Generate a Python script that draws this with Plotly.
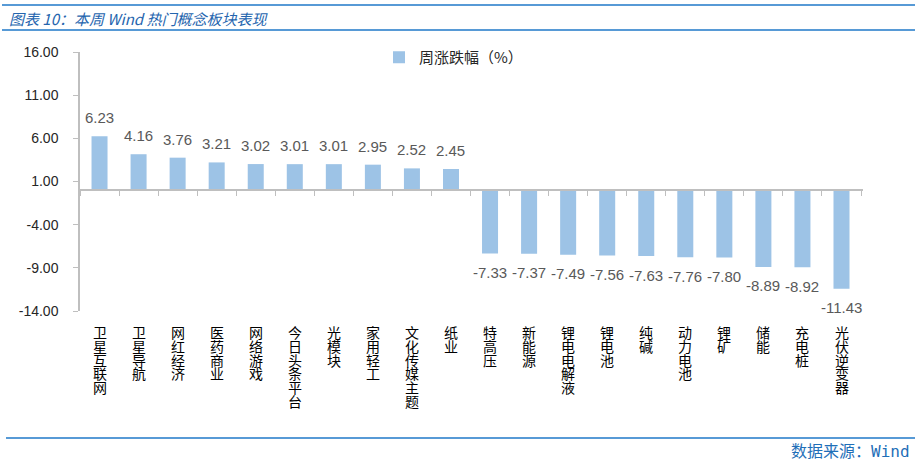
import plotly.graph_objects as go

categories = ["卫星互联网", "卫星导航", "网红经济", "医药商业", "网络游戏", "今日头条平台",
              "光模块", "家用轻工", "文化传媒主题", "纸业", "特高压", "新能源",
              "锂电电解液", "锂电池", "纯碱", "动力电池", "锂矿", "储能", "充电桩", "光伏逆变器"]
values = [6.23, 4.16, 3.76, 3.21, 3.02, 3.01, 3.01, 2.95, 2.52, 2.45,
          -7.33, -7.37, -7.49, -7.56, -7.63, -7.76, -7.80, -8.89, -8.92, -11.43]
series_name = "周涨跌幅（%）"
y_ticks = [16, 11, 6, 1, -4, -9, -14]
y_min, y_max = -14, 16
title_text = "图表 10：本周 Wind 热门概念板块表现"
source_cjk = "数据来源："
source_name = "Wind"

W, H = 915, 465
L, R, T, B = 80, 863, 52, 311

def px_x(p):
    return (p - L) / (R - L)

def px_y(p):
    return (B - p) / (B - T)

fig = go.Figure()
fig.add_trace(go.Bar(
    x=categories, y=values, name=series_name,
    marker=dict(color="#9DC3E6", line=dict(width=0)),
    cliponaxis=False, hoverinfo="x+y",
))

# value labels, offset from the bar ends
for cat, v in zip(categories, values):
    fig.add_annotation(text=f"{v:.2f}", x=cat, y=v, xref="x", yref="y",
                       yshift=18.5 if v >= 0 else -19, xanchor="center", yanchor="middle",
                       showarrow=False, borderpad=0,
                       font=dict(family="Liberation Sans, Arial", size=15, color="#595959"))

fig.update_layout(
    width=W, height=H,
    margin=dict(l=L, r=W - R, t=T, b=H - B, autoexpand=False),
    paper_bgcolor="white", plot_bgcolor="white",
    bargap=0.59,
    showlegend=True,
    legend=dict(x=px_x(379), y=px_y(41), xanchor="left", yanchor="top",
                orientation="h", bgcolor="rgba(0,0,0,0)", itemwidth=30,
                font=dict(family="Noto Sans CJK SC", size=15, color="#262626")),
    xaxis=dict(type="category", anchor="free",
               position=(0 - y_min) / (y_max - y_min),
               showline=True, linecolor="#BFBFBF", linewidth=1.5,
               ticks="outside", ticklen=5, tickcolor="#BFBFBF", tickwidth=1,
               tickson="boundaries", showticklabels=False, showgrid=False, zeroline=False),
    yaxis=dict(range=[y_min, y_max], tickmode="array", tickvals=y_ticks,
               ticktext=[f"{v:.2f}" for v in y_ticks],
               showline=True, linecolor="#BFBFBF", linewidth=1.5,
               ticks="outside", ticklen=5, tickcolor="#BFBFBF",
               showgrid=False, zeroline=False,
               tickfont=dict(family="Liberation Sans, Arial", size=14, color="#262626"),
               ticklabelstandoff=12),
)

# vertical (stacked) category labels below the plot area
char_step = 13.8
first_center = 332
for cat in categories:
    for i, ch in enumerate(cat):
        fig.add_annotation(text=ch, x=cat, xref="x", yref="paper",
                           y=px_y(first_center + i * char_step),
                           xanchor="center", yanchor="middle", showarrow=False,
                           borderpad=0,
                           font=dict(family="Noto Sans CJK SC", size=14, color="#000000"))

line_color = "#1F78C8"
for py, x0, x1 in [(5, 2, 915), (30, 2, 915), (438, 6, 915)]:
    fig.add_shape(type="line", xref="paper", yref="paper",
                  x0=px_x(x0), x1=px_x(x1), y0=px_y(py), y1=px_y(py),
                  line=dict(color=line_color, width=1.5))

fig.add_annotation(text=f"<i>{title_text}</i>", xref="paper", yref="paper",
                   x=px_x(7), y=px_y(18), xanchor="left", yanchor="middle",
                   showarrow=False,
                   font=dict(family="Noto Sans CJK SC", size=15, color="#2565AE"))
fig.add_annotation(
    text=source_cjk + f"<span style='font-family:DejaVu Sans Mono'>{source_name}</span>",
    xref="paper", yref="paper",
    x=px_x(912), y=px_y(450), xanchor="right", yanchor="middle",
    showarrow=False,
    font=dict(family="Noto Sans CJK SC", size=16, color="#1F6FB8"))

fig.write_html("out.html", config={"displayModeBar": False})

# remove the default page margin so the figure sits at the window's top-left corner
with open("out.html", "r", encoding="utf-8") as f:
    html = f.read()
html = html.replace("<head>", "<head><style>html,body{margin:0;padding:0;overflow:hidden}</style>", 1)
with open("out.html", "w", encoding="utf-8") as f:
    f.write(html)
